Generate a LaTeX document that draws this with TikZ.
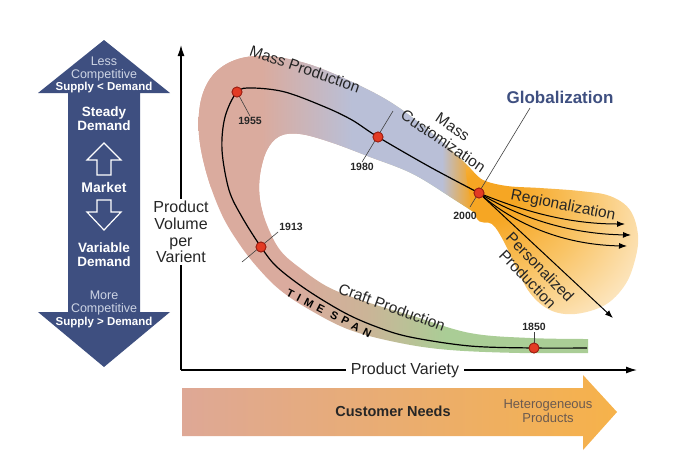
\documentclass[tikz,border=0pt]{standalone}
\usepackage{fontspec}
\setmainfont{Liberation Sans}
\newfontfamily\spanfont[LetterSpace=45]{Liberation Sans}
\usepackage{tikz}
\usetikzlibrary{arrows.meta}

\definecolor{marketblue}{HTML}{3E4F80}
\definecolor{marketlight}{HTML}{CDD4E4}
\definecolor{bandpink}{HTML}{DAAB9E}
\definecolor{bandblue}{HTML}{B9BFD7}
\definecolor{bandorange}{HTML}{F6A623}
\definecolor{bandtan}{HTML}{CBB497}
\definecolor{bandgreen}{HTML}{AACD96}
\definecolor{fanmid}{HTML}{F9C466}
\definecolor{fanpale}{HTML}{FDEBCD}
\definecolor{dotred}{HTML}{E33B24}
\definecolor{dotedge}{HTML}{9A1E12}
\definecolor{needpink}{HTML}{DEA896}
\definecolor{needorange}{HTML}{F6B24A}
\definecolor{hetgray}{HTML}{6B5A50}

\pgfdeclarehorizontalshading{upperband}{100bp}{color(0bp)=(bandpink); color(37bp)=(bandpink); color(52bp)=(bandblue); color(67bp)=(bandblue); color(72bp)=(bandorange); color(100bp)=(bandorange)}
\pgfdeclarehorizontalshading{lowerband}{100bp}{color(0bp)=(bandpink); color(38bp)=(bandpink); color(47bp)=(bandtan); color(57bp)=(bandgreen); color(100bp)=(bandgreen)}
\pgfdeclareradialshading{fanshade}{\pgfpoint{-19.7bp}{15.2bp}}{color(0bp)=(bandorange); color(8bp)=(bandorange); color(24bp)=(fanmid); color(44bp)=(fanpale); color(100bp)=(fanpale)}

\tikzset{
	yeardot/.style={circle, fill=dotred, draw=dotedge, line width=0.8pt, inner sep=0pt, minimum size=10pt},
	yearlabel/.style={font=\bfseries\fontsize{10.5}{12}\selectfont, text=black!85, inner sep=1pt},
	tickline/.style={draw=black!75, line width=0.6pt},
	bandlabel/.style={font=\fontsize{15.5}{17}\selectfont, text=black!85, inner sep=0pt, align=center},
	marketbold/.style={font=\bfseries\fontsize{13.5}{14}\selectfont, text=white, inner sep=0pt, align=center},
	marketthin/.style={font=\fontsize{12.5}{13}\selectfont, text=marketlight, inner sep=0pt, align=center},
	supplylabel/.style={font=\bfseries\fontsize{11.5}{12}\selectfont, text=white, inner sep=0pt},
	axisline/.style={line width=1.3pt, -{Latex[length=11pt,width=7pt]}},
	flowarrow/.style={line width=1pt, -{Latex[length=8pt,width=6pt]}},
}

\begin{document}
\begin{tikzpicture}[x=1pt,y=-1pt]
	\useasboundingbox (0,0) rectangle (700,456);

	% Customer needs arrow
	\shade[left color=needpink, right color=needorange] (182,388) -- (583,388) -- (583,375) -- (617,412) -- (583,450) -- (583,436) -- (182,436) -- cycle;
	\node[font=\bfseries\fontsize{14.5}{15}\selectfont, text=black!85] (needs) at (393,411) {Customer Needs};
	\node[font=\fontsize{13}{13.5}\selectfont, text=hetgray, align=center] (hetero) at (548,411) {Heterogeneous\\Products};

	% Band
	\begin{scope}
		\clip plot[smooth, tension=0.6] coordinates {(588,353) (520,353) (450,350) (400,343) (350,330) (310,310) (280,290) (258,268) (240,245) (222,215) (207,175) (199,135) (201,100) (213,75) (235,60) (265,56) (305,63) (350,81) (395,105) (440,140) (470,168)}
			-- plot[smooth, tension=0.6] coordinates {(478,215) (455,200) (413,174) (370,157) (330,142) (300,134) (280,136) (267,150) (260,175) (260,200) (267,225) (280,250) (300,268) (330,288) (370,303) (413,316) (470,333) (530,338) (588,339)} -- cycle;
		\shade[shading=lowerband] (190,40) rectangle (590,360);
		\clip (180,40) -- (500,40) -- (500,232) -- (300,232) -- (180,172) -- cycle;
		\shade[shading=upperband] (190,40) rectangle (490,232);
	\end{scope}
	\shade[shading=fanshade] plot[smooth cycle, tension=0.6] coordinates {(466,168) (483,180) (507,186) (540,188) (580,191) (610,196) (630,210) (638,235) (635,260) (625,285) (605,305) (575,314) (550,310) (530,293) (515,265) (503,240) (492,224) (476,217)};

	% Time span line
	\draw[line width=1.2pt] plot[smooth, tension=0.55] coordinates {(587,348) (534,348) (470,346) (410,337) (377,327) (345,313) (307,290) (277,267) (261,247) (242,217) (229,190) (222,150) (225,117) (237,92) (252,88) (285,92) (325,107) (352,120) (378,137) (430,167) (479,193)};

	% Years
	\node[yearlabel] (l1955) at (250,121) {1955};
	\node[yearlabel] (l1980) at (362,167) {1980};
	\node[yearlabel] (l2000) at (465,216) {2000};
	\node[yearlabel] (l1913) at (291,227) {1913};
	\node[yearlabel] (l1850) at (534,327) {1850};
	\node[font=\bfseries\fontsize{17}{18}\selectfont, text=marketblue] (glob) at (560,97) {Globalization};
	\coordinate (t1980) at (393,111);
	\coordinate (t1913) at (242,262);
	\coordinate (g1) at (530,108);
	\coordinate (g2) at (470,207);
	\node[yeardot] (d1955) at (237,92) {};
	\node[yeardot] (d1980) at (378,137) {};
	\node[yeardot] (d2000) at (479,193) {};
	\node[yeardot] (d1913) at (261,247) {};
	\node[yeardot] (d1850) at (534,348) {};

	% Regionalization and personal arrows
	\coordinate (r1) at (625,224);
	\coordinate (r2) at (631,235);
	\coordinate (r3) at (627,246);
	\coordinate (p1) at (613,318);
	\draw[flowarrow] (d2000.center) .. controls (525,212) and (570,224) .. (r1);
	\draw[flowarrow] (d2000.center) .. controls (520,218) and (570,234) .. (r2);
	\draw[flowarrow] (d2000.center) .. controls (515,225) and (565,245) .. (r3);
	\draw[flowarrow] (d2000.center) -- (p1);

	% Ticks
	\draw[tickline] (d1955.center) -- (l1955.north);
	\draw[tickline] (t1980) -- (l1980.north);
	\draw[tickline] (t1913) -- (l1913.south west);
	\draw[tickline] (d1850.center) -- (l1850.south);
	\draw[tickline] (g1) -- (g2);
	\foreach \yr in {1955,1980,2000,1913,1850}
		\node[yeardot] at (d\yr) {};

	% Band labels
	\node[bandlabel, rotate=-19] (massprod) at (305,69) {Mass Production};
	\node[bandlabel, rotate=-34] (masscust) at (448,134) {Mass\\Customization};
	\node[bandlabel, rotate=-20] (craft) at (392,307) {Craft Production};
	\node[font=\spanfont\bfseries\fontsize{11}{12}\selectfont, rotate=-27, inner sep=0pt] (span) at (329,313) {TIME SPAN};
	\node[bandlabel, rotate=-11] (region) at (563,206) {Regionalization};
	\node[bandlabel, rotate=-46] (personal) at (534,273) {Personalized\\Production};

	% Draw axes
	\coordinate (origin) at (181,370);
	\coordinate (ytop) at (181,45);
	\coordinate (xend) at (637,370);
	\draw[axisline] (origin) -- (ytop);
	\draw[axisline] (origin) -- (xend);
	\node[fill=white, font=\fontsize{16}{16.7}\selectfont, text=black!85, align=center, inner sep=2pt] (ylabel) at (181,232) {Product\\Volume\\per\\Varient};
	\node[fill=white, font=\fontsize{16}{17}\selectfont, text=black!85, inner xsep=5pt] (xlabel) at (405,370) {Product Variety};

	% Market arrow
	\fill[marketblue] (104,40) -- (170,93) -- (140,93) -- (140,312) -- (170,312) -- (104,367) -- (38,312) -- (68,312) -- (68,93) -- (38,93) -- cycle;
	\draw[white, line width=1.2pt] (104,143) -- (121,160) -- (111,160) -- (111,175) -- (97,175) -- (97,160) -- (87,160) -- cycle;
	\draw[white, line width=1.2pt] (97,200) -- (111,200) -- (111,212) -- (121,212) -- (104,230) -- (87,212) -- (97,212) -- cycle;
	\node[marketthin] (less) at (104,69) {Less\\Competitive};
	\node[supplylabel] (supless) at (104,88) {Supply < Demand};
	\node[marketbold] (steady) at (104,119) {Steady\\Demand};
	\node[marketbold, font=\bfseries\fontsize{14}{14}\selectfont] (market) at (104,187) {Market};
	\node[marketbold] (variable) at (104,255) {Variable\\Demand};
	\node[marketthin] (more) at (104,303) {More\\Competitive};
	\node[supplylabel] (supmore) at (104,323) {Supply > Demand};
\end{tikzpicture}
\end{document}
